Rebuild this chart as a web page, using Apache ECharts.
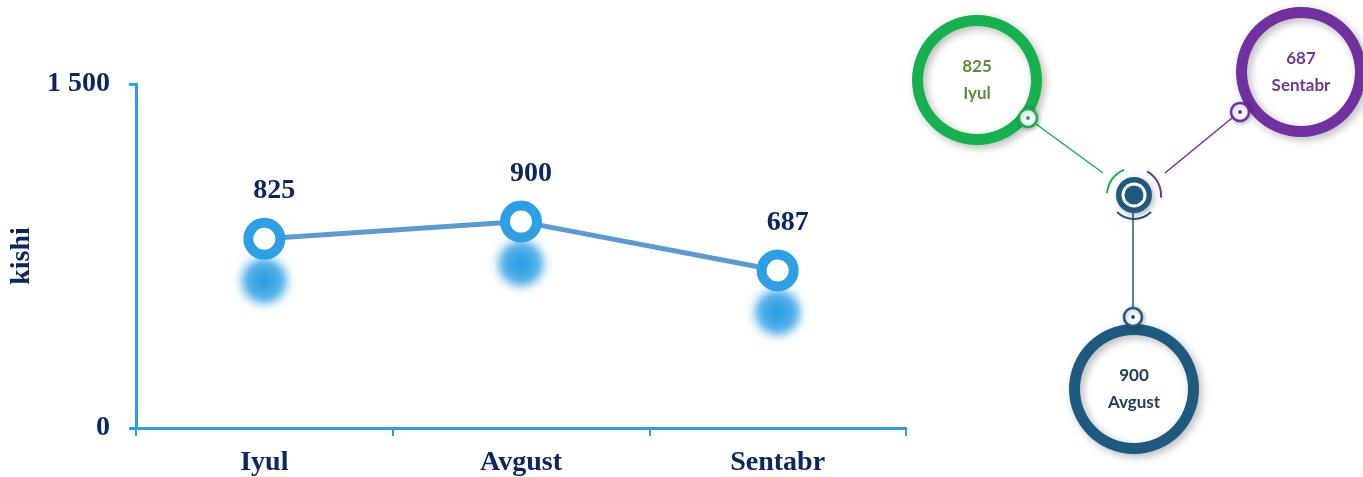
<!DOCTYPE html>
<html>
<head>
<meta charset="utf-8">
<script src="https://cdn.jsdelivr.net/npm/echarts@6/dist/echarts.min.js"></script>
<style>
html,body{margin:0;padding:0;background:#fff;}
#map{width:1363px;height:477px;}
</style>
</head>
<body>
<div id="map"></div>
<script>
// oylar va kishilar soni
var months = ['Iyul', 'Avgust', 'Sentabr'];
var kishi = [825, 900, 687];
var yTicks = [0, 1500];
// o'ng tomondagi halqalar ranglari
var ringColors = ['#17b04f', '#1e5a80', '#7030a0'];
var ringTextColors = ['#5b8c3a', '#1f3b55', '#6a3a98'];

var myChart = echarts.init(document.getElementById('map'));

var navy = '#0c2660';
var axisBlue = '#2e9fe4';
var serif = '"Liberation Serif", "Times New Roman", serif';

// halqalar joylashuvi (faqat joy, qiymat emas)
var ringCenters = [[977, 80], [1134, 389], [1301, 72]];
var hub = [1134, 195];

var pies = [];
for (var i = 0; i < months.length; i++) {
	pies.push({
		type: 'pie',
		silent: true,
		animation: false,
		center: ringCenters[i],
		radius: [54, 65],
		startAngle: 90,
		z: 2,
		itemStyle: {
			color: ringColors[i],
			shadowColor: 'rgba(0,0,0,0.28)',
			shadowBlur: 8,
			shadowOffsetX: 3,
			shadowOffsetY: 3
		},
		label: {
			show: true,
			position: 'center',
			formatter: '{v|{c}}\n{n|{b}}',
			rich: {
				v: {fontFamily: 'Lato', fontWeight: 'bold', fontSize: 17, color: ringTextColors[i], lineHeight: 27},
				n: {fontFamily: 'Lato', fontWeight: 'bold', fontSize: 17, color: ringTextColors[i], lineHeight: 27}
			}
		},
		labelLine: {show: false},
		data: [{name: months[i], value: kishi[i]}]
	});
}

// bog'lovchi chiziqlar va kichik tugunlar
var smallNodes = [[1028, 118], [1133, 317], [1240, 112]];
var lineEnds = [[[1036, 124], [1103, 173]], [[1133, 213], [1133, 308]], [[1232, 118], [1165, 173]]];
var graphics = [];
for (var j = 0; j < 3; j++) {
	graphics.push({
		type: 'line', silent: true, z: 10,
		shape: {x1: lineEnds[j][0][0], y1: lineEnds[j][0][1], x2: lineEnds[j][1][0], y2: lineEnds[j][1][1]},
		style: {stroke: ringColors[j], lineWidth: 1.5}
	});
	graphics.push({
		type: 'circle', silent: true, z: 10,
		shape: {cx: smallNodes[j][0], cy: smallNodes[j][1], r: 9},
		style: {fill: '#fff', stroke: ringColors[j], lineWidth: 2.5, shadowBlur: 5, shadowColor: 'rgba(0,0,0,0.3)', shadowOffsetX: 1, shadowOffsetY: 1}
	});
	graphics.push({
		type: 'circle', silent: true, z: 11,
		shape: {cx: smallNodes[j][0], cy: smallNodes[j][1], r: 2},
		style: {fill: ringColors[j]}
	});
}
// markaziy tugun
graphics.push({type: 'arc', silent: true, z: 10, shape: {cx: hub[0], cy: hub[1], r: 27, startAngle: Math.PI * 1.02, endAngle: Math.PI * 1.38}, style: {stroke: ringColors[0], lineWidth: 2, fill: null}});
graphics.push({type: 'arc', silent: true, z: 10, shape: {cx: hub[0], cy: hub[1], r: 27, startAngle: Math.PI * 1.66, endAngle: Math.PI * 2.03}, style: {stroke: ringColors[2], lineWidth: 2, fill: null}});
graphics.push({type: 'arc', silent: true, z: 10, shape: {cx: hub[0], cy: hub[1], r: 24, startAngle: Math.PI * 0.25, endAngle: Math.PI * 0.75}, style: {stroke: ringColors[1], lineWidth: 2, fill: null}});
graphics.push({type: 'circle', silent: true, z: 10, shape: {cx: hub[0], cy: hub[1], r: 18}, style: {fill: ringColors[1], shadowBlur: 6, shadowColor: 'rgba(0,0,0,0.3)', shadowOffsetX: 2, shadowOffsetY: 2}});
graphics.push({type: 'circle', silent: true, z: 11, shape: {cx: hub[0], cy: hub[1], r: 12.5}, style: {fill: '#fff'}});
graphics.push({type: 'circle', silent: true, z: 12, shape: {cx: hub[0], cy: hub[1], r: 9.5}, style: {fill: ringColors[1]}});

var option = {
	animation: false,
	grid: {left: 136, top: 84, right: 457, bottom: 49, containLabel: false},
	xAxis: {
		type: 'category',
		data: months,
		boundaryGap: true,
		axisLine: {show: true, lineStyle: {color: axisBlue, width: 3}},
		axisTick: {show: true, length: 8, lineStyle: {color: axisBlue, width: 2}},
		axisLabel: {color: navy, fontFamily: serif, fontWeight: 'bold', fontSize: 28, margin: 21}
	},
	yAxis: {
		type: 'value',
		min: yTicks[0],
		max: yTicks[1],
		interval: yTicks[1] - yTicks[0],
		name: 'kishi',
		nameLocation: 'middle',
		nameGap: 98,
		nameTextStyle: {color: navy, fontFamily: serif, fontWeight: 'bold', fontSize: 28},
		splitLine: {show: false},
		axisLine: {show: true, lineStyle: {color: axisBlue, width: 3}},
		axisTick: {show: true, length: 7, lineStyle: {color: axisBlue, width: 3}},
		axisLabel: {
			color: navy, fontFamily: serif, fontWeight: 'bold', fontSize: 28, margin: 26,
			formatter: function(v) { return String(v).replace(/\B(?=(\d{3})+(?!\d))/g, ' '); }
		}
	},
	series: [{
		type: 'line',
		data: kishi,
		symbol: 'circle',
		symbolSize: 32,
		lineStyle: {color: '#5b9bd5', width: 5},
		itemStyle: {
			color: '#fff',
			borderColor: axisBlue,
			borderWidth: 10,
			shadowColor: axisBlue,
			shadowBlur: 12,
			shadowOffsetY: 42
		},
		label: {
			show: true,
			position: 'top',
			distance: 13,
			offset: [10, 0],
			color: navy, fontFamily: serif, fontWeight: 'bold', fontSize: 28
		},
		z: 3
	}].concat(pies),
	graphic: graphics
};

myChart.setOption(option);
</script>
</body>
</html>
